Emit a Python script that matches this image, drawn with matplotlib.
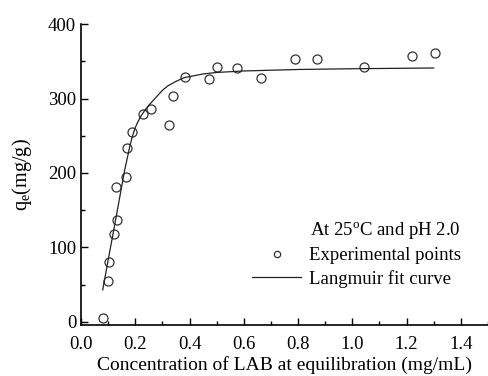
import matplotlib.pyplot as plt
from matplotlib.ticker import MultipleLocator

plt.rcParams['font.family'] = ['Liberation Serif', 'DejaVu Serif']
plt.rcParams['mathtext.fontset'] = 'custom'
plt.rcParams['mathtext.rm'] = 'Liberation Serif'
plt.rcParams['mathtext.it'] = 'Liberation Serif'

# experimental points
conc = [0.08, 0.10, 0.103, 0.12, 0.133, 0.128, 0.165, 0.168, 0.187, 0.228,
        0.257, 0.323, 0.34, 0.383, 0.47, 0.503, 0.574, 0.665, 0.787, 0.871,
        1.044, 1.22, 1.305]
qe = [5, 55, 80, 118, 137, 181, 194, 234, 255, 279,
      286, 265, 303, 329, 326, 342, 341, 327, 353, 353,
      342, 357, 361]

# Langmuir fit curve
fit_x = [0.08, 0.10, 0.12, 0.14, 0.16, 0.18, 0.19, 0.20, 0.21, 0.22, 0.235,
         0.25, 0.265, 0.28, 0.30, 0.32, 0.35, 0.38, 0.45, 0.50, 0.60, 0.80,
         1.00, 1.30]
fit_y = [43, 83, 122, 162, 202, 236, 250, 261, 269, 276, 284,
         291, 297, 303, 311, 317, 323, 328, 333, 335, 337, 339,
         340, 341]


def do_plot():
    fig = plt.figure(figsize=(4.88, 3.76), dpi=100)
    ax = fig.add_axes([0.166, 0.136, 0.834, 0.8])
    ax.plot(conc, qe, 'o', mfc='none', mec='#333333', mew=0.9, markersize=6.5,
            label='Experimental points')
    ax.plot(fit_x, fit_y, '-', color='#222222', lw=0.9, label='Langmuir fit curve')

    ax.set_xlim(0, 1.5)
    ax.set_ylim(-4, 400)
    ax.xaxis.set_major_locator(MultipleLocator(0.2))
    ax.xaxis.set_minor_locator(MultipleLocator(0.1))
    ax.yaxis.set_major_locator(MultipleLocator(100))
    ax.yaxis.set_minor_locator(MultipleLocator(50))
    ax.xaxis.set_major_formatter(plt.FormatStrFormatter('%.1f'))
    ax.tick_params(which='both', direction='in', labelsize=13.5, width=1)
    ax.tick_params(which='major', length=5)
    ax.tick_params(which='minor', length=3)
    ax.tick_params(axis='x', pad=8)
    ax.spines['top'].set_visible(False)
    ax.spines['right'].set_visible(False)
    ax.spines['left'].set_linewidth(1.2)
    ax.spines['bottom'].set_linewidth(1.2)

    ax.set_xlabel('Concentration of LAB at equilibration (mg/mL)', fontsize=14, labelpad=2)
    ax.set_ylabel(r'q$_\mathregular{e}$(mg/g)', fontsize=14.5, labelpad=10)

    leg = ax.legend(loc='lower right', bbox_to_anchor=(0.965, 0.08), frameon=False,
                    title=r'At 25$^\mathregular{o}$C and pH 2.0', fontsize=13.5,
                    title_fontsize=13.5, handlelength=2.6, handletextpad=0.4,
                    labelspacing=0.3, borderpad=0.2, markerscale=0.7)
    leg._legend_box.align = 'right'

    plt.savefig('out.png', dpi=100)


if __name__ == '__main__':
    do_plot()
